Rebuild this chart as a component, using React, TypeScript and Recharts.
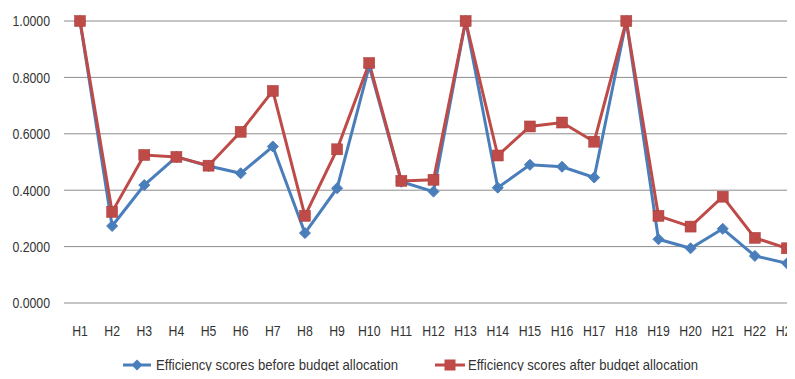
import React from 'react';
import { LineChart, Line, XAxis, YAxis, CartesianGrid } from 'recharts';

const categories = ['H1','H2','H3','H4','H5','H6','H7','H8','H9','H10','H11','H12','H13','H14','H15','H16','H17','H18','H19','H20','H21','H22','H23'];
const beforeScores = [1.0, 0.273, 0.418, 0.518, 0.486, 0.46, 0.555, 0.248, 0.407, 0.84, 0.43, 0.395, 1.0, 0.409, 0.49, 0.483, 0.445, 1.0, 0.226, 0.194, 0.263, 0.167, 0.141];
const afterScores = [1.0, 0.323, 0.525, 0.518, 0.487, 0.607, 0.752, 0.309, 0.545, 0.851, 0.433, 0.437, 1.0, 0.523, 0.626, 0.64, 0.572, 1.0, 0.309, 0.271, 0.377, 0.231, 0.194];
const yTicks = [0, 0.2, 0.4, 0.6, 0.8, 1.0];
const seriesNames = ['Efficiency scores before budget allocation', 'Efficiency scores after budget allocation'];

const BLUE = '#4a7ebb';
const RED = '#be4b48';
const FONT = '"Liberation Sans", Arial, sans-serif';
const TEXT = '#333';
const SX = 0.82;

const data = categories.map((name, i) => ({ name, before: beforeScores[i], after: afterScores[i] }));

const Diamond = (props: any) => {
  const { cx, cy } = props;
  if (cx == null || cy == null) return null;
  const r = 5.5;
  return <polygon points={`${cx},${cy - r} ${cx + r},${cy} ${cx},${cy + r} ${cx - r},${cy}`} fill={BLUE} stroke={BLUE} strokeWidth={1} />;
};

const Square = (props: any) => {
  const { cx, cy } = props;
  if (cx == null || cy == null) return null;
  const s = 11;
  return <rect x={cx - s / 2} y={cy - s / 2} width={s} height={s} fill={RED} stroke="#a83c39" strokeWidth={0.5} />;
};

const XTick = (props: any) => {
  const { x, y, payload } = props;
  return (
    <g transform={`translate(${x},${y}) scale(${SX},1)`}>
      <text x={0} y={0} dy="0.71em" textAnchor="middle" fontFamily={FONT} fontSize={15} fill={TEXT}>{payload.value}</text>
    </g>
  );
};

const YTick = (props: any) => {
  const { x, y, payload } = props;
  return (
    <g transform={`translate(${x},${y}) scale(${SX},1)`}>
      <text x={0} y={0} dy="0.36em" textAnchor="end" fontFamily={FONT} fontSize={15} fill={TEXT}>{Number(payload.value).toFixed(4)}</text>
    </g>
  );
};

export default function App() {
  return (
    <div style={{ position: 'relative', margin: -8, width: 795, height: 379, overflow: 'hidden', background: '#fff' }}>
      <LineChart width={810} height={379} data={data} margin={{ top: 21, right: 7, bottom: 46, left: 0 }}>
        <CartesianGrid horizontal vertical={false} stroke="#8c8c8c" strokeWidth={1} />
        <XAxis dataKey="name" axisLine={false} tickLine={false} tickSize={0} tickMargin={22} padding={{ left: 16, right: 16 }} interval={0}
          tick={<XTick />} />
        <YAxis domain={[0, 1]} ticks={yTicks} width={64} axisLine={false} tickLine={false} tickSize={0} tickMargin={14}
          tick={<YTick />} />
        <Line type="linear" dataKey="before" stroke={BLUE} strokeWidth={3} dot={<Diamond />} activeDot={false} isAnimationActive={false} />
        <Line type="linear" dataKey="after" stroke={RED} strokeWidth={3} dot={<Square />} activeDot={false} isAnimationActive={false} />
      </LineChart>
      <svg width={795} height={24} style={{ position: 'absolute', left: 0, top: 353 }}>
        <line x1={123} x2={151} y1={12} y2={12} stroke={BLUE} strokeWidth={3} />
        <polygon points="137,6.5 142.5,12 137,17.5 131.5,12" fill={BLUE} />
        <text x={156} y={12} dy="0.36em" fontFamily={FONT} fontSize={15} fill={TEXT} textLength={242} lengthAdjust="spacingAndGlyphs">{seriesNames[0]}</text>
        <line x1={435} x2={465} y1={12} y2={12} stroke={RED} strokeWidth={3} />
        <rect x={444.5} y={6.5} width={11} height={11} fill={RED} />
        <text x={468} y={12} dy="0.36em" fontFamily={FONT} fontSize={15} fill={TEXT} textLength={230} lengthAdjust="spacingAndGlyphs">{seriesNames[1]}</text>
      </svg>
    </div>
  );
}
